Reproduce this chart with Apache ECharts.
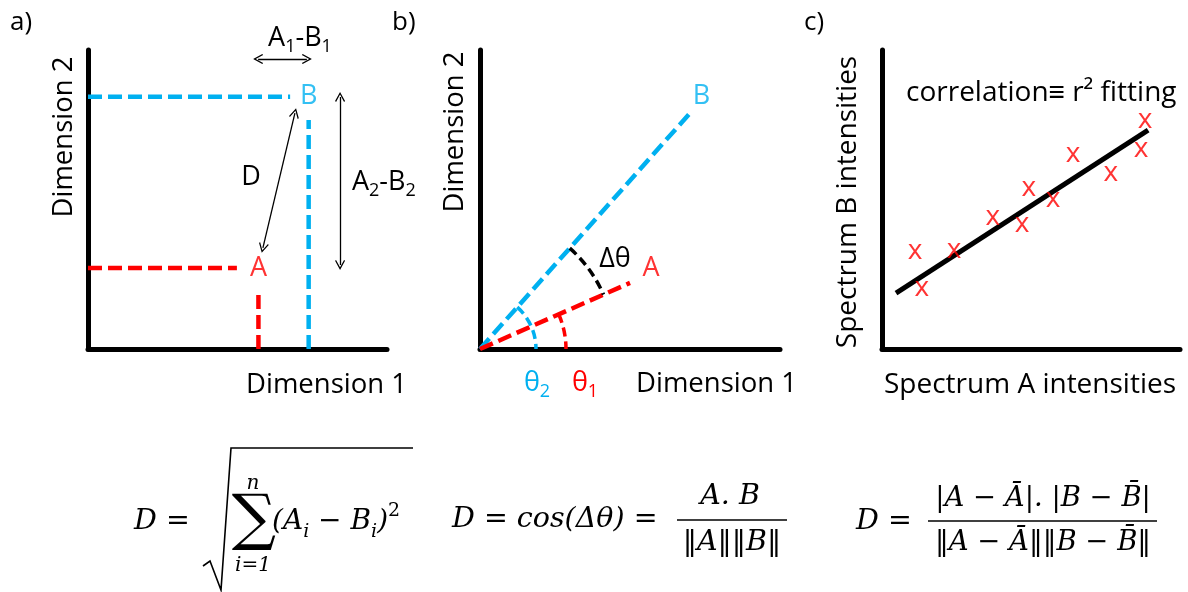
<!DOCTYPE html>
<html><head><meta charset="utf-8">
<script src="https://cdn.jsdelivr.net/npm/echarts@6/dist/echarts.min.js"></script>
<style>html,body{margin:0;padding:0;background:#fff}#c{width:1188px;height:592px}</style>
</head><body><div id="c"></div>
<script>
// ---------- data (axis units 0..100) ----------
const pointA = [57, 27.1];
const pointB = [73.8, 84.4];
// panel a: projections of A and B onto the axes
const aBlueH = [[0, 84.4], [67.6, 84.4]];
const aBlueV = [[73.8, 0], [73.8, 76.6]];
const aRedH  = [[0, 27.1], [49.8, 27.1]];
const aRedV  = [[57, 0], [57, 18.7]];
const aArrowD    = [[69.2, 78.9], [58.5, 33.8]];
const aArrowA1B1 = [[56.9, 97], [73.2, 97]];
const aArrowA2B2 = [[84.3, 84.3], [84.3, 28.1]];
// panel b: vectors from the origin
const bVecB = [[0, 0], [70, 78.9]];
const bVecA = [[0, 0], [50, 22.1]];
// panel c: scatter of intensities and fitted line
const cPoints = [[11.1, 31.8], [13.4, 19.4], [24.2, 32.1], [37.2, 43.1], [47.0, 40.8],
                 [49.3, 52.8], [57.4, 49.2], [64.1, 64.2], [76.8, 57.9], [86.9, 65.9], [88.3, 75.6]];
const cFit = [[4.7, 18.7], [89.3, 73.2]];

// ---------- styles ----------
const BLUE = '#00B0F0', RED = '#FF0000', BLACK = '#000';
const FONT = '"Open Sans", sans-serif';
const MATH = '"DejaVu Serif", serif';
const DASH = [14, 6];
const ARROW = 'path://M6,0 L12,11 L10.8,12 L6,3.2 L1.2,12 L0,11 Z';
const TITLE = 27.5;

const chart = echarts.init(document.getElementById('c'), null, {renderer: 'canvas'});

function axis(type, gi) {
  return {
    type: 'value', gridIndex: gi, min: 0, max: 100,
    axisLine: {show: true, onZero: false, lineStyle: {color: BLACK, width: 5}},
    axisTick: {show: false}, axisLabel: {show: false}, splitLine: {show: false}
  };
}
function dashed(gi, data, color) {
  return {type: 'line', xAxisIndex: gi, yAxisIndex: gi, data: data, symbol: 'none',
    lineStyle: {color: color, width: 4.5, type: DASH, cap: 'butt'}, z: 3};
}
function arrow(gi, coords) {
  return {type: 'lines', coordinateSystem: 'cartesian2d', xAxisIndex: gi, yAxisIndex: gi,
    symbol: [ARROW, ARROW], symbolSize: 10,
    lineStyle: {color: BLACK, width: 1.3, opacity: 1}, data: [{coords: coords}], z: 4};
}
function pointLabel(gi, pt, name, color) {
  return {type: 'scatter', xAxisIndex: gi, yAxisIndex: gi, symbolSize: 0,
    data: [{value: pt, name: name}],
    label: {show: true, position: 'inside', formatter: '{b}', color: color,
      fontFamily: FONT, fontSize: 27}, z: 5};
}

const option = {
  animation: false,
  backgroundColor: '#fff',
  grid: [
    {left: 88, top: 50, width: 299, height: 299},
    {left: 480, top: 50, width: 300, height: 299},
    {left: 882, top: 50, width: 298, height: 299}
  ],
  xAxis: [axis('x', 0), axis('x', 1), axis('x', 2)],
  yAxis: [axis('y', 0), axis('y', 1), axis('y', 2)],
  series: [
    dashed(0, aBlueH, BLUE), dashed(0, aBlueV, BLUE),
    dashed(0, aRedH, RED), dashed(0, aRedV, RED),
    arrow(0, aArrowD), arrow(0, aArrowA1B1), arrow(0, aArrowA2B2),
    pointLabel(0, pointA, 'A', RED), pointLabel(0, pointB, 'B', BLUE),
    dashed(1, bVecB, BLUE), dashed(1, bVecA, RED),
    pointLabel(1, pointA, 'A', RED), pointLabel(1, pointB, 'B', BLUE),
    {type: 'line', xAxisIndex: 2, yAxisIndex: 2, data: cFit, symbol: 'none',
      lineStyle: {color: BLACK, width: 5}, z: 3},
    {type: 'scatter', xAxisIndex: 2, yAxisIndex: 2, data: cPoints, symbolSize: 0,
      label: {show: true, position: 'inside', formatter: 'x', color: RED,
        fontFamily: FONT, fontSize: 28, offset: [0, -3]}, z: 5}
  ]
};
chart.setOption(option);

// ---------- annotations ----------
function txt(x, y, text, opts) {
  opts = opts || {};
  return {type: 'text', x: x, y: y, rotation: opts.rot || 0, z: 10,
    style: Object.assign({text: text, fill: opts.color || BLACK,
      fontFamily: opts.family || FONT, fontSize: opts.size || TITLE,
      fontStyle: opts.style || 'normal',
      align: opts.align || 'left', verticalAlign: 'middle',
      textAlign: opts.align || 'left', textVerticalAlign: 'middle'},
      opts.extra || {})};
}
const subRich = {s: {fontSize: 18, lineHeight: 22, verticalAlign: 'bottom', fontFamily: FONT}};
const lbl = {lineHeight: 36, rich: subRich};
const mathRich = {
  s: {fontSize: 19, lineHeight: 22, verticalAlign: 'bottom', fontFamily: MATH, fontStyle: 'italic'},
  p: {fontSize: 19, lineHeight: 24, verticalAlign: 'top', fontFamily: MATH}
};
const mth = {family: MATH, style: 'italic', size: 28.5};

const origin = chart.convertToPixel({gridIndex: 1}, [0, 0]);
const pBend = chart.convertToPixel({gridIndex: 1}, bVecB[1]);
const pAend = chart.convertToPixel({gridIndex: 1}, bVecA[1]);
const angB = Math.atan2(origin[1] - pBend[1], pBend[0] - origin[0]);
const angA = Math.atan2(origin[1] - pAend[1], pAend[0] - origin[0]);
function arc(r, a0, a1, color) {
  return {type: 'arc', z: 4,
    shape: {cx: origin[0], cy: origin[1], r: r, startAngle: -a1, endAngle: -a0, clockwise: true},
    style: {stroke: color, lineWidth: 3.5, lineDash: [9, 5], fill: null}};
}

const graphics = [
  txt(10, 23, 'a)', {size: 26}), txt(392, 23, 'b)', {size: 26}), txt(804, 23, 'c)', {size: 26}),
  // panel a
  txt(300, 38, 'A{s|1}-B{s|1}', {align: 'center', size: 27, extra: lbl}),
  txt(251, 177, 'D', {align: 'center', size: 27}),
  txt(352, 182, 'A{s|2}-B{s|2}', {size: 27, extra: lbl}),
  txt(246, 385, 'Dimension 1'),
  txt(64, 137, 'Dimension 2', {rot: Math.PI / 2, align: 'center'}),
  // panel b
  txt(636, 384, 'Dimension 1'),
  txt(455, 132, 'Dimension 2', {rot: Math.PI / 2, align: 'center'}),
  txt(615, 259, 'Δθ', {align: 'center', size: 27}),
  txt(537, 383, 'θ{s|2}', {align: 'center', size: 27, color: BLUE, extra: lbl}),
  txt(585, 383, 'θ{s|1}', {align: 'center', size: 27, color: RED, extra: lbl}),
  arc(135, angA, angB, BLACK), arc(56, 0, angB, BLUE), arc(86, 0, angA, RED),
  // panel c
  txt(906, 93, 'correlation≡ r² fitting', {size: 28}),
  txt(884, 385, 'Spectrum A intensities', {size: 28}),
  txt(848, 202, 'Spectrum B intensities', {rot: Math.PI / 2, align: 'center', size: 28}),
  // formula 1: Euclidean distance
  txt(134, 522, 'D =', mth),
  {type: 'polyline', z: 10, shape: {points: [[203, 566], [210, 561], [221, 590], [231, 448], [413, 448]]},
    style: {stroke: BLACK, lineWidth: 1.6, fill: null}},
  txt(254, 522, '∑', {family: MATH, size: 62, align: 'center'}),
  txt(253, 484, 'n', {family: MATH, style: 'italic', size: 20, align: 'center'}),
  txt(253, 566, 'i=1', {family: MATH, style: 'italic', size: 20, align: 'center'}),
  txt(272, 522, '(A{s|i} − B{s|i}){p|2}', Object.assign({}, mth, {size: 28, extra: {lineHeight: 40, rich: mathRich}})),
  // formula 2: cosine
  txt(452, 520, 'D = cos(Δθ) =', mth),
  txt(730, 497, 'A. B', Object.assign({}, mth, {align: 'center'})),
  {type: 'line', z: 10, shape: {x1: 677, y1: 520, x2: 787, y2: 520}, style: {stroke: BLACK, lineWidth: 1.6}},
  txt(732, 543, '‖A‖‖B‖', Object.assign({}, mth, {align: 'center'})),
  // formula 3: correlation
  txt(856, 522, 'D =', mth),
  txt(1043, 499, '|A − A\u0304|. |B − B\u0304|', Object.assign({}, mth, {align: 'center', size: 27.5})),
  {type: 'line', z: 10, shape: {x1: 928, y1: 521, x2: 1157, y2: 521}, style: {stroke: BLACK, lineWidth: 1.6}},
  txt(1043, 543, '‖A − A\u0304‖‖B − B\u0304‖', Object.assign({}, mth, {align: 'center', size: 27.5}))
];
chart.setOption({graphic: graphics});
</script></body></html>
